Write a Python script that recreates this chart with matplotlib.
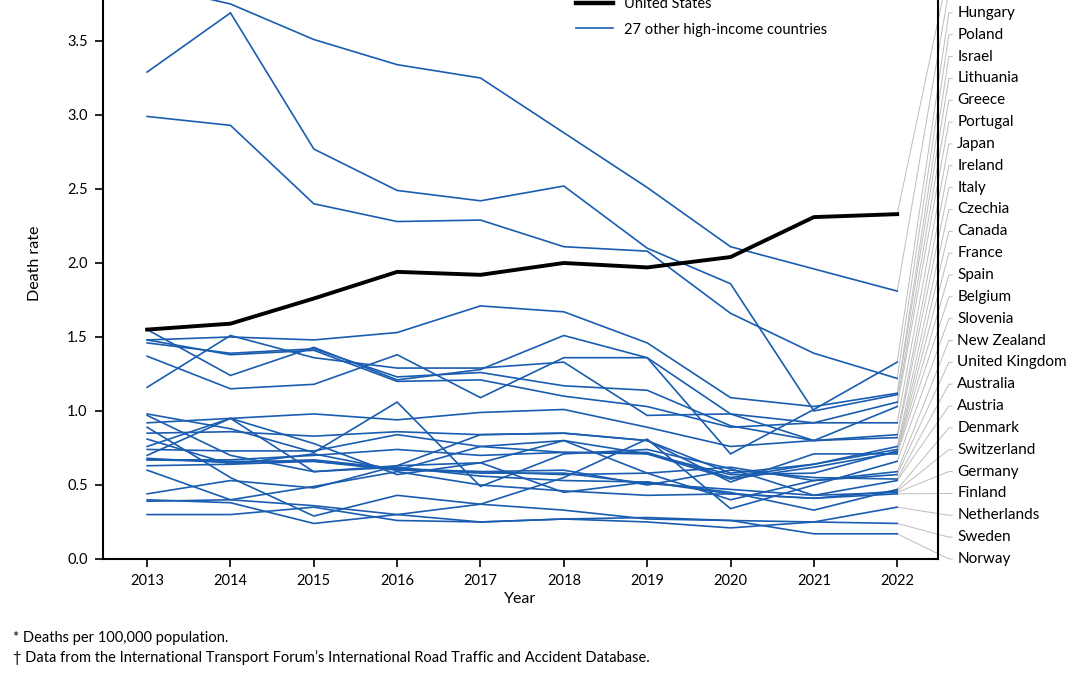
import matplotlib
matplotlib.use("Agg")
import matplotlib.pyplot as plt
from matplotlib.lines import Line2D

# pedestrian death rate per 100,000, 2013-2022
years = list(range(2013, 2023))

us_rate = [1.55, 1.59, 1.76, 1.94, 1.92, 2.00, 1.97, 2.04, 2.31, 2.33]

countries = {
    'Republic of Korea': [3.88, 3.75, 3.51, 3.34, 3.25, 2.88, 2.51, 2.11, 1.96, 1.81],
    'Hungary':        [1.37, 1.15, 1.18, 1.38, 1.09, 1.36, 1.36, 0.71, 1.01, 1.33],
    'Poland':         [2.99, 2.93, 2.40, 2.28, 2.29, 2.11, 2.08, 1.66, 1.39, 1.22],
    'Israel':         [1.48, 1.50, 1.48, 1.53, 1.71, 1.67, 1.46, 1.09, 1.03, 1.12],
    'Lithuania':      [3.29, 3.69, 2.77, 2.49, 2.42, 2.52, 2.10, 1.86, 1.00, 1.11],
    'Greece':         [1.55, 1.24, 1.43, 1.21, 1.28, 1.51, 1.36, 0.98, 0.92, 1.06],
    'Portugal':       [1.46, 1.39, 1.42, 1.23, 1.26, 1.17, 1.14, 0.90, 0.80, 1.03],
    'Japan':          [1.48, 1.38, 1.41, 1.20, 1.21, 1.10, 1.03, 0.89, 0.92, 0.92],
    'Ireland':        [1.16, 1.51, 1.36, 1.29, 1.29, 1.33, 0.97, 0.98, 0.80, 0.84],
    'Italy':          [0.92, 0.95, 0.98, 0.94, 0.99, 1.01, 0.89, 0.76, 0.80, 0.82],
    'Czechia':        [0.97, 0.70, 0.59, 0.63, 0.84, 0.85, 0.80, 0.58, 0.64, 0.76],
    'Canada':         [0.67, 0.67, 0.70, 0.74, 0.70, 0.72, 0.72, 0.55, 0.64, 0.74],
    'France':         [0.74, 0.73, 0.73, 0.84, 0.76, 0.72, 0.71, 0.57, 0.58, 0.73],
    'Spain':          [0.81, 0.64, 0.71, 0.60, 0.76, 0.80, 0.71, 0.54, 0.62, 0.72],
    'Belgium':        [0.85, 0.86, 0.83, 0.86, 0.84, 0.85, 0.80, 0.52, 0.71, 0.71],
    'Slovenia':       [0.89, 0.55, 0.29, 0.43, 0.37, 0.55, 0.81, 0.34, 0.50, 0.66],
    'New Zealand':    [0.70, 0.95, 0.78, 0.57, 0.65, 0.80, 0.58, 0.62, 0.53, 0.59],
    'United Kingdom': [0.63, 0.64, 0.66, 0.60, 0.59, 0.57, 0.58, 0.40, 0.53, 0.57],
    'Australia':      [0.68, 0.65, 0.67, 0.61, 0.59, 0.60, 0.50, 0.60, 0.55, 0.54],
    'Austria':        [0.98, 0.88, 0.72, 1.06, 0.49, 0.71, 0.74, 0.61, 0.43, 0.53],
    'Denmark':        [0.44, 0.53, 0.48, 0.63, 0.65, 0.45, 0.52, 0.45, 0.33, 0.47],
    'Switzerland':    [0.76, 0.95, 0.59, 0.62, 0.56, 0.53, 0.52, 0.44, 0.41, 0.46],
    'Germany':        [0.67, 0.66, 0.66, 0.61, 0.58, 0.58, 0.51, 0.47, 0.43, 0.45],
    'Finland':        [0.60, 0.40, 0.49, 0.59, 0.50, 0.46, 0.43, 0.44, 0.41, 0.44],
    'Netherlands':    [0.39, 0.40, 0.36, 0.30, 0.37, 0.33, 0.27, 0.26, 0.25, 0.35],
    'Sweden':         [0.40, 0.38, 0.24, 0.30, 0.25, 0.27, 0.25, 0.21, 0.25, 0.24],
    'Norway':         [0.30, 0.30, 0.35, 0.26, 0.25, 0.27, 0.28, 0.26, 0.17, 0.17],
}

yticks = [0.0, 0.5, 1.0, 1.5, 2.0, 2.5, 3.0, 3.5]
footnotes = ['* Deaths per 100,000 population.',
             '\u2020 Data from the International Transport Forum\u2019s International Road Traffic and Accident Database.']

BLUE = '#1a5db0'
GREY = '#bdbdbd'

plt.rcParams['font.family'] = ['Lato', 'DejaVu Sans']

fig = plt.figure(figsize=(10.92, 6.75), dpi=100)
# the original is a crop: the top of the axes sits above the picture
ax = fig.add_axes([0.0943, 0.1719, 0.7647, 0.877])

for name, vals in countries.items():
    ax.plot(years, vals, color=BLUE, lw=1.2, solid_joinstyle='miter', zorder=2)
ax.plot(years, us_rate, color='black', lw=2.8, zorder=3)

ax.set_xlim(2012.47, 2022.49)
ax.set_ylim(0, 4.0)
ax.set_xticks(years)
ax.set_yticks(yticks)
ax.set_yticklabels(['%.1f' % t for t in yticks])
ax.tick_params(direction='out', length=6, width=1.2, labelsize=10.5, pad=5)
for s in ax.spines.values():
    s.set_linewidth(1.5)
ax.set_xlabel('Year', fontsize=11.5, labelpad=3)
ax.set_ylabel('Death rate', fontsize=11.5, labelpad=18)

# direct labels, sorted by the 2022 value, with grey leader lines
series = [('United States', us_rate)] + list(countries.items())
series.sort(key=lambda kv: kv[1][-1])
step = 0.1476
top_visible = 3.75   # labels above this are cropped away in the original
for i, (name, vals) in enumerate(series):
    ly = i * step
    ax.plot([2022, 2022.62, 2022.66], [vals[-1], ly, ly], color=GREY, lw=0.7,
            clip_on=False, zorder=1)
    if ly < top_visible:
        ax.text(2022.72, ly, name, fontsize=11, va='center', ha='left', clip_on=False)

handles = [Line2D([], [], color='black', lw=3.2),
           Line2D([], [], color=BLUE, lw=1.2)]
fig.legend(handles, ['United States', '27 other high-income countries'],
           loc='upper left', bbox_to_anchor=(0.515, 1.024), frameon=False,
           fontsize=10.5, handlelength=2.6, handletextpad=0.7, labelspacing=0.8)

fig.text(0.012, 0.049, footnotes[0], fontsize=10.5)
fig.text(0.012, 0.019, footnotes[1], fontsize=10.5)

fig.savefig('out.png', dpi=100)
